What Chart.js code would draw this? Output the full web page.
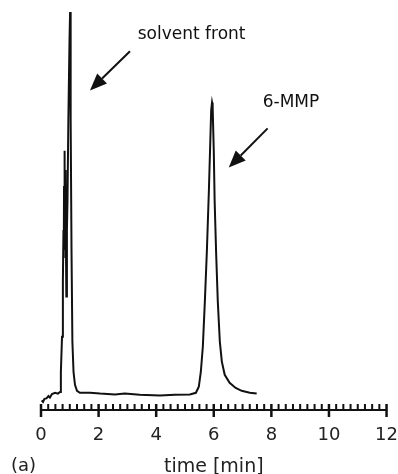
<!DOCTYPE html>
<html>
<head>
<meta charset="utf-8">
<script src="https://cdn.jsdelivr.net/npm/chart.js@4"></script>
<style>
  html, body { margin: 0; padding: 0; background: #fff; }
  canvas { display: block; }
</style>
</head>
<body>
<canvas id="chromChart" width="398" height="474"></canvas>
<script>
// Retention time [min] and detector signal (arbitrary units)
const timeMin = [
  0.02, 0.07, 0.12, 0.19, 0.26, 0.31, 0.38, 0.49, 0.59, 0.66,
  0.69, 0.73, 0.76, 0.78, 0.79, 0.80, 0.81, 0.82, 0.83, 0.84,
  0.85, 0.86, 0.88, 0.90, 0.92, 0.95, 0.99,
  1.01, 1.02, 1.04, 1.06, 1.09, 1.13, 1.18, 1.25, 1.35,
  1.70, 2.05, 2.57, 2.91, 3.43, 4.13, 4.65, 5.17, 5.38, 5.48,
  5.55, 5.62, 5.69, 5.76, 5.83, 5.88, 5.91, 5.94, 5.96, 6.00,
  6.03, 6.08, 6.14, 6.21, 6.28, 6.38, 6.55, 6.76, 6.97, 7.25, 7.49
];
const signal = [
  2.4, 2.0, 2.8, 2.9, 3.5, 3.1, 4.0, 4.3, 4.1, 4.5,
  9.5, 18.3, 32.2, 45.0, 38.0, 56.0, 44.0, 64.8, 50.0, 60.0,
  40.0, 52.0, 28.4, 45.0, 52.3, 72.4, 92.5,
  99.5, 95.0, 72.4, 39.7, 17.1, 9.5, 6.3, 4.8, 4.3,
  4.3, 4.1, 3.9, 4.1, 3.8, 3.6, 3.8, 3.9, 4.3, 5.8,
  9.5, 15.8, 27.1, 39.7, 54.8, 67.3, 74.9, 76.9, 76.1, 64.8,
  52.3, 39.7, 27.1, 17.1, 12.1, 8.8, 6.8, 5.5, 4.8, 4.3, 4.1
];
const xTickLabels = [0, 2, 4, 6, 8, 10, 12];

// Peak labels with arrow tail/tip, in data units (time, signal)
const peakNotes = [
  { text: 'solvent front', label: [3.36, 92.7], tail: [3.09, 89.7], tip: [1.70, 79.9] },
  { text: '6-MMP', label: [7.70, 75.8], tail: [7.87, 70.4], tip: [6.52, 60.6] }
];

const FONT = 'DejaVu Sans';

// Draw axis tick marks, peak arrows and the panel letter
const decorPlugin = {
  id: 'decor',
  afterDraw(chart) {
    const { ctx, chartArea, scales: { x, y } } = chart;
    ctx.save();
    ctx.strokeStyle = '#111';
    x.ticks.forEach(t => {
      const px = x.getPixelForValue(t.value);
      const major = xTickLabels.includes(t.value);
      ctx.lineWidth = major ? 2.5 : 2;
      ctx.beginPath();
      ctx.moveTo(px, chartArea.bottom - 6);
      ctx.lineTo(px, chartArea.bottom + (major ? 7 : 0));
      ctx.stroke();
    });

    ctx.fillStyle = '#111';
    ctx.font = '17px "' + FONT + '"';
    ctx.textBaseline = 'alphabetic';
    peakNotes.forEach(n => {
      ctx.fillText(n.text, x.getPixelForValue(n.label[0]), y.getPixelForValue(n.label[1]));
      const x0 = x.getPixelForValue(n.tail[0]), y0 = y.getPixelForValue(n.tail[1]);
      const x1 = x.getPixelForValue(n.tip[0]), y1 = y.getPixelForValue(n.tip[1]);
      const ang = Math.atan2(y1 - y0, x1 - x0);
      const headLen = 17, headW = 7;
      const bx = x1 - headLen * Math.cos(ang), by = y1 - headLen * Math.sin(ang);
      ctx.lineWidth = 2;
      ctx.beginPath();
      ctx.moveTo(x0, y0);
      ctx.lineTo(bx, by);
      ctx.stroke();
      ctx.beginPath();
      ctx.moveTo(x1, y1);
      ctx.lineTo(bx + headW * Math.sin(ang), by - headW * Math.cos(ang));
      ctx.lineTo(bx - headW * Math.sin(ang), by + headW * Math.cos(ang));
      ctx.closePath();
      ctx.fill();
    });

    ctx.font = '18px "' + FONT + '"';
    ctx.textBaseline = 'middle';
    ctx.fillStyle = '#222';
    ctx.fillText('(a)', 11, 466);
    ctx.restore();
  }
};

new Chart(document.getElementById('chromChart'), {
  type: 'line',
  data: {
    datasets: [{
      data: timeMin.map((t, i) => ({ x: t, y: signal[i] })),
      borderColor: '#111',
      borderWidth: 2,
      pointRadius: 0,
      tension: 0,
      fill: false
    }]
  },
  options: {
    responsive: false,
    animation: false,
    devicePixelRatio: 1,
    layout: { padding: { left: 41, right: 11, top: 10, bottom: 0 } },
    plugins: {
      legend: { display: false },
      tooltip: { enabled: false }
    },
    scales: {
      x: {
        type: 'linear',
        min: 0,
        max: 12,
        grid: {
          display: true,
          drawOnChartArea: false,
          drawTicks: true,
          tickLength: 16,
          color: 'rgba(0,0,0,0)'
        },
        border: { display: true, color: '#111', width: 2 },
        ticks: {
          stepSize: 0.25,
          autoSkip: false,
          maxRotation: 0,
          padding: 0,
          color: '#222',
          font: { family: FONT, size: 18, lineHeight: 1 },
          callback: v => (xTickLabels.includes(v) ? v : '')
        },
        title: {
          display: true,
          text: 'time [min]',
          color: '#222',
          font: { family: FONT, size: 19, lineHeight: 1 },
          padding: { top: 14, bottom: -3 }
        }
      },
      y: {
        display: false,
        min: 0,
        max: 100
      }
    }
  },
  plugins: [decorPlugin]
});
</script>
</body>
</html>
